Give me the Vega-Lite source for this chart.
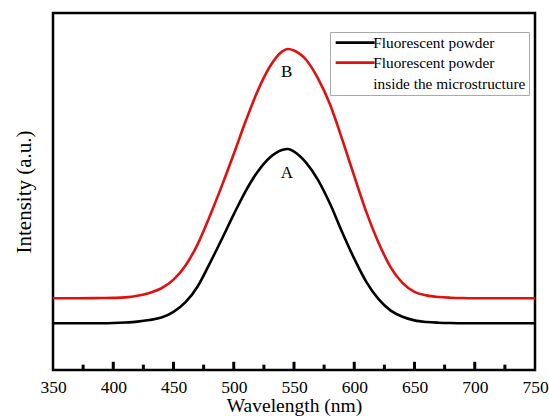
{
  "$schema": "https://vega.github.io/schema/vega-lite/v6.json",
  "width": 482,
  "height": 357,
  "autosize": {"type": "none"},
  "padding": {"left": 53, "top": 13, "right": 14, "bottom": 46},
  "background": "white",
  "config": {
    "view": {"stroke": "black", "strokeWidth": 2.5},
    "font": "Times New Roman",
    "axis": {"labelFont": "Times New Roman", "titleFont": "Times New Roman"},
    "legend": {"labelFont": "Times New Roman"},
    "style": {
      "guide-label": {"font": "Times New Roman", "lineHeight": 21},
      "guide-title": {"font": "Times New Roman"}
    }
  },
  "datasets": {
    "curves": [
      {"nm": 350, "v": 13.1, "s": "Fluorescent powder"},
      {"nm": 370, "v": 13.1, "s": "Fluorescent powder"},
      {"nm": 390, "v": 13.1, "s": "Fluorescent powder"},
      {"nm": 400, "v": 13.15, "s": "Fluorescent powder"},
      {"nm": 410, "v": 13.3, "s": "Fluorescent powder"},
      {"nm": 420, "v": 13.55, "s": "Fluorescent powder"},
      {"nm": 430, "v": 14.0, "s": "Fluorescent powder"},
      {"nm": 440, "v": 14.7, "s": "Fluorescent powder"},
      {"nm": 450, "v": 16.3, "s": "Fluorescent powder"},
      {"nm": 460, "v": 19.0, "s": "Fluorescent powder"},
      {"nm": 470, "v": 23.4, "s": "Fluorescent powder"},
      {"nm": 480, "v": 29.8, "s": "Fluorescent powder"},
      {"nm": 490, "v": 36.6, "s": "Fluorescent powder"},
      {"nm": 500, "v": 43.6, "s": "Fluorescent powder"},
      {"nm": 510, "v": 50.2, "s": "Fluorescent powder"},
      {"nm": 520, "v": 55.6, "s": "Fluorescent powder"},
      {"nm": 530, "v": 59.5, "s": "Fluorescent powder"},
      {"nm": 540, "v": 61.6, "s": "Fluorescent powder"},
      {"nm": 545, "v": 61.9, "s": "Fluorescent powder"},
      {"nm": 550, "v": 61.2, "s": "Fluorescent powder"},
      {"nm": 560, "v": 58.1, "s": "Fluorescent powder"},
      {"nm": 570, "v": 53.2, "s": "Fluorescent powder"},
      {"nm": 580, "v": 46.5, "s": "Fluorescent powder"},
      {"nm": 590, "v": 38.6, "s": "Fluorescent powder"},
      {"nm": 600, "v": 31.2, "s": "Fluorescent powder"},
      {"nm": 610, "v": 24.7, "s": "Fluorescent powder"},
      {"nm": 620, "v": 19.9, "s": "Fluorescent powder"},
      {"nm": 630, "v": 16.7, "s": "Fluorescent powder"},
      {"nm": 640, "v": 14.9, "s": "Fluorescent powder"},
      {"nm": 650, "v": 13.9, "s": "Fluorescent powder"},
      {"nm": 660, "v": 13.45, "s": "Fluorescent powder"},
      {"nm": 670, "v": 13.25, "s": "Fluorescent powder"},
      {"nm": 680, "v": 13.15, "s": "Fluorescent powder"},
      {"nm": 690, "v": 13.1, "s": "Fluorescent powder"},
      {"nm": 720, "v": 13.1, "s": "Fluorescent powder"},
      {"nm": 750, "v": 13.1, "s": "Fluorescent powder"},
      {"nm": 350, "v": 20.1, "s": "Fluorescent powder|inside the microstructure"},
      {"nm": 370, "v": 20.1, "s": "Fluorescent powder|inside the microstructure"},
      {"nm": 390, "v": 20.15, "s": "Fluorescent powder|inside the microstructure"},
      {"nm": 400, "v": 20.2, "s": "Fluorescent powder|inside the microstructure"},
      {"nm": 410, "v": 20.35, "s": "Fluorescent powder|inside the microstructure"},
      {"nm": 420, "v": 20.8, "s": "Fluorescent powder|inside the microstructure"},
      {"nm": 430, "v": 21.6, "s": "Fluorescent powder|inside the microstructure"},
      {"nm": 440, "v": 22.9, "s": "Fluorescent powder|inside the microstructure"},
      {"nm": 450, "v": 25.3, "s": "Fluorescent powder|inside the microstructure"},
      {"nm": 460, "v": 29.3, "s": "Fluorescent powder|inside the microstructure"},
      {"nm": 470, "v": 35.2, "s": "Fluorescent powder|inside the microstructure"},
      {"nm": 480, "v": 43.0, "s": "Fluorescent powder|inside the microstructure"},
      {"nm": 490, "v": 51.5, "s": "Fluorescent powder|inside the microstructure"},
      {"nm": 500, "v": 60.5, "s": "Fluorescent powder|inside the microstructure"},
      {"nm": 510, "v": 69.8, "s": "Fluorescent powder|inside the microstructure"},
      {"nm": 520, "v": 78.3, "s": "Fluorescent powder|inside the microstructure"},
      {"nm": 530, "v": 85.0, "s": "Fluorescent powder|inside the microstructure"},
      {"nm": 540, "v": 89.2, "s": "Fluorescent powder|inside the microstructure"},
      {"nm": 545, "v": 89.9, "s": "Fluorescent powder|inside the microstructure"},
      {"nm": 550, "v": 89.5, "s": "Fluorescent powder|inside the microstructure"},
      {"nm": 560, "v": 86.9, "s": "Fluorescent powder|inside the microstructure"},
      {"nm": 570, "v": 81.6, "s": "Fluorescent powder|inside the microstructure"},
      {"nm": 580, "v": 74.3, "s": "Fluorescent powder|inside the microstructure"},
      {"nm": 590, "v": 64.6, "s": "Fluorescent powder|inside the microstructure"},
      {"nm": 600, "v": 54.3, "s": "Fluorescent powder|inside the microstructure"},
      {"nm": 610, "v": 44.3, "s": "Fluorescent powder|inside the microstructure"},
      {"nm": 620, "v": 35.8, "s": "Fluorescent powder|inside the microstructure"},
      {"nm": 630, "v": 28.9, "s": "Fluorescent powder|inside the microstructure"},
      {"nm": 640, "v": 24.4, "s": "Fluorescent powder|inside the microstructure"},
      {"nm": 650, "v": 21.9, "s": "Fluorescent powder|inside the microstructure"},
      {"nm": 660, "v": 20.9, "s": "Fluorescent powder|inside the microstructure"},
      {"nm": 670, "v": 20.45, "s": "Fluorescent powder|inside the microstructure"},
      {"nm": 680, "v": 20.25, "s": "Fluorescent powder|inside the microstructure"},
      {"nm": 690, "v": 20.15, "s": "Fluorescent powder|inside the microstructure"},
      {"nm": 700, "v": 20.1, "s": "Fluorescent powder|inside the microstructure"},
      {"nm": 750, "v": 20.1, "s": "Fluorescent powder|inside the microstructure"}
    ],
    "labels": [
      {"nm": 544, "v": 55.3, "t": "A"},
      {"nm": 544, "v": 83.4, "t": "B"}
    ],
    "tickmarks": [
      {"nm": 375, "kind": "minor"},
      {"nm": 400, "kind": "major"},
      {"nm": 425, "kind": "minor"},
      {"nm": 450, "kind": "major"},
      {"nm": 475, "kind": "minor"},
      {"nm": 500, "kind": "major"},
      {"nm": 525, "kind": "minor"},
      {"nm": 550, "kind": "major"},
      {"nm": 575, "kind": "minor"},
      {"nm": 600, "kind": "major"},
      {"nm": 625, "kind": "minor"},
      {"nm": 650, "kind": "major"},
      {"nm": 675, "kind": "minor"},
      {"nm": 700, "kind": "major"},
      {"nm": 725, "kind": "minor"}
    ]
  },
  "layer": [
    {
      "data": {"name": "tickmarks"},
      "transform": [{"filter": "datum.kind == 'major'"}],
      "mark": {"type": "rule", "color": "black", "strokeWidth": 3},
      "encoding": {
        "x": {"field": "nm", "type": "quantitative"},
        "y": {"datum": 0},
        "y2": {"datum": 2.3}
      }
    },
    {
      "data": {"name": "tickmarks"},
      "transform": [{"filter": "datum.kind == 'minor'"}],
      "mark": {"type": "rule", "color": "black", "strokeWidth": 3},
      "encoding": {
        "x": {"field": "nm", "type": "quantitative"},
        "y": {"datum": 0},
        "y2": {"datum": 1.5}
      }
    },
    {
      "data": {"name": "curves"},
      "mark": {"type": "line", "strokeWidth": 2.6, "interpolate": "monotone"},
      "encoding": {
        "x": {
          "field": "nm", "type": "quantitative",
          "scale": {"domain": [350, 750], "nice": false, "zero": false},
          "axis": {
            "title": "Wavelength (nm)",
            "titleFontSize": 19.5, "titleFontWeight": "normal", "titleColor": "black", "titlePadding": 0,
            "values": [350, 400, 450, 500, 550, 600, 650, 700, 750],
            "labelFontSize": 17.5, "labelColor": "black", "labelPadding": 8.5,
            "ticks": false,
            "domain": false,
            "grid": false, "labelFlush": false, "labelOverlap": false
          }
        },
        "y": {
          "field": "v", "type": "quantitative",
          "scale": {"domain": [0, 100], "nice": false},
          "axis": {
            "title": "Intensity (a.u.)",
            "titleFontSize": 21, "titleFontWeight": "normal", "titleColor": "black",
            "labels": false, "ticks": false, "grid": false, "domain": false, "titlePadding": 19
          }
        },
        "color": {
          "field": "s", "type": "nominal",
          "scale": {"domain": ["Fluorescent powder", "Fluorescent powder|inside the microstructure"], "range": ["#000000", "#e01010"]},
          "legend": {
            "title": null,
            "orient": "none", "legendX": 277, "legendY": 19,
            "symbolType": "M-1,0H6.8", "symbolSize": 100, "symbolStrokeWidth": 2.6,
            "labelExpr": "split(datum.label, '|')",
            "labelFontSize": 15.3, "labelColor": "black",
            "labelOffset": 25, "labelLimit": 300,
            "rowPadding": 4,
            "strokeColor": "#aaaaaa", "padding": 3, "fillColor": "white"
          }
        }
      }
    },
    {
      "data": {"name": "labels"},
      "mark": {"type": "text", "font": "Times New Roman", "fontSize": 17, "color": "black"},
      "encoding": {
        "x": {"field": "nm", "type": "quantitative"},
        "y": {"field": "v", "type": "quantitative"},
        "text": {"field": "t"}
      }
    }
  ]
}
